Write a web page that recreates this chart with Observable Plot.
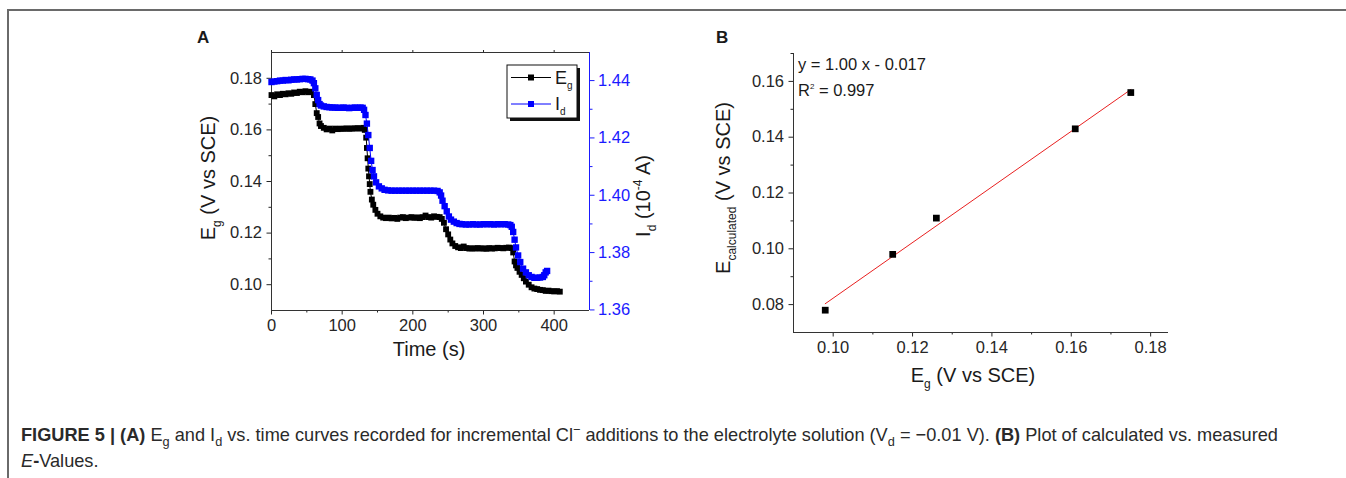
<!DOCTYPE html>
<html><head><meta charset="utf-8">
<script src="https://cdn.jsdelivr.net/npm/d3@7"></script>
<script src="https://cdn.jsdelivr.net/npm/@observablehq/plot@0.6"></script>
<style>
body{margin:0;background:#fff;font-family:"Liberation Sans",Arial,sans-serif;}
#page{position:relative;width:1346px;height:478px;overflow:hidden;background:#fff;}
#frame{position:absolute;left:7px;top:9px;width:1345px;height:475px;border-top:2px solid #6a6a6a;border-left:2px solid #6a6a6a;}
.chart{position:absolute;}
#overlay{position:absolute;left:0;top:0;}
#caption{position:absolute;left:21px;top:423px;font-size:18.2px;line-height:25.5px;color:#2a2a2a;white-space:nowrap;}
#caption sub,#caption sup{font-size:70%;line-height:0;}
</style></head>
<body><div id="page"><div id="frame"></div>
<div id="caption"><b>FIGURE 5 | (A)</b> E<sub>g</sub> and I<sub>d</sub> vs. time curves recorded for incremental Cl<sup>−</sup> additions to the electrolyte solution (V<sub>d</sub> = −0.01 V). <b>(B)</b> Plot of calculated vs. measured<br><i>E</i><b>-</b>Values.</div>
</div>
<script>
// ---- Panel A data ----
const egTime = [0,4,8,12,16,20,24,28,32,36,40,44,48,52,56,60,62,64,66,68,70,74,78,82,86,90,94,98,102,106,110,114,118,122,126,130,132,134,135,136,137,138,139,140,142,144,147,150,154,158,162,166,170,174,178,182,186,190,194,198,202,206,210,214,218,222,226,230,234,238,241,244,247,250,253,256,260,264,268,272,276,280,284,288,292,296,300,304,308,312,316,320,324,328,332,336,340,342,344,346,348,351,354,357,360,364,368,372,376,380,384,388,392,396,400,404,408];
const egValue = [0.1735,0.1730,0.1738,0.1735,0.1740,0.1738,0.1742,0.1740,0.1745,0.1743,0.1748,0.1746,0.1750,0.1746,0.1748,0.1735,0.1700,0.1665,0.1650,0.1625,0.1615,0.1608,0.1602,0.1605,0.1598,0.1605,0.1603,0.1605,0.1604,0.1606,0.1604,0.1606,0.1605,0.1607,0.1605,0.1608,0.1600,0.1570,0.1530,0.1490,0.1450,0.1420,0.1390,0.1360,0.1330,0.1310,0.1290,0.1275,0.1265,0.1260,0.1258,0.1260,0.1257,0.1259,0.1255,0.1260,0.1262,0.1258,0.1260,0.1262,0.1259,0.1261,0.1258,0.1262,0.1268,0.1262,0.1260,0.1265,0.1263,0.1262,0.1255,0.1240,0.1215,0.1195,0.1175,0.1160,0.1150,0.1145,0.1142,0.1148,0.1142,0.1140,0.1141,0.1140,0.1142,0.1140,0.1141,0.1139,0.1142,0.1140,0.1141,0.1143,0.1142,0.1141,0.1143,0.1144,0.1142,0.1125,0.1090,0.1075,0.1065,0.1050,0.1038,0.1025,0.1012,0.1000,0.0990,0.0985,0.0983,0.0980,0.0979,0.0976,0.0977,0.0975,0.0974,0.0975,0.0973];
const idTime = [0,4,8,12,16,20,24,28,32,36,40,44,48,52,55,58,60,62,64,66,68,70,74,78,82,86,90,94,98,102,106,110,114,118,122,126,129,131,133,135,137,139,141,143,145,148,152,156,160,165,170,175,180,185,190,195,200,205,210,215,220,225,230,235,238,240,242,245,248,251,254,258,262,266,270,275,280,285,290,295,300,305,310,315,320,325,330,335,338,340,342,344,346,349,352,356,360,364,368,372,376,380,384,386,388,390];
const idValue = [1.4395,1.4397,1.4398,1.4400,1.4400,1.4402,1.4401,1.4403,1.4404,1.4404,1.4405,1.4406,1.4406,1.4405,1.4404,1.4400,1.4391,1.4373,1.4350,1.4332,1.4318,1.4313,1.4310,1.4308,1.4307,1.4306,1.4306,1.4305,1.4305,1.4306,1.4305,1.4304,1.4305,1.4306,1.4305,1.4306,1.4305,1.4298,1.4280,1.4250,1.4210,1.4165,1.4120,1.4088,1.4066,1.4045,1.4031,1.4024,1.4019,1.4017,1.4016,1.4016,1.4016,1.4016,1.4016,1.4016,1.4016,1.4016,1.4016,1.4016,1.4016,1.4016,1.4016,1.4015,1.4010,1.3999,1.3981,1.3962,1.3944,1.3926,1.3915,1.3908,1.3903,1.3900,1.3899,1.3898,1.3898,1.3899,1.3898,1.3898,1.3899,1.3899,1.3899,1.3898,1.3899,1.3899,1.3899,1.3898,1.3896,1.3890,1.3872,1.3845,1.3818,1.3790,1.3767,1.3744,1.3731,1.3721,1.3715,1.3712,1.3712,1.3713,1.3715,1.3721,1.3731,1.3736];
const timeTicks = [0,100,200,300,400];
const timeMinor = [50,150,250,350];
const egTicks = [0.10,0.12,0.14,0.16,0.18];
const egMinor = [0.11,0.13,0.15,0.17];
const idTicks = [1.36,1.38,1.40,1.42,1.44];
const idMinor = [1.37,1.39,1.41,1.43];
const timeDomain = [0,450];
const egDomain = [0.09,0.19];
const idDomain = [1.3598,1.4498];

// ---- Panel B data ----
const measured = [0.098,0.115,0.126,0.161,0.175];
const calculated = [0.078,0.098,0.111,0.143,0.156];
const bxTicks = [0.10,0.12,0.14,0.16,0.18];
const bxMinor = [0.11,0.13,0.15,0.17];
const byTicks = [0.08,0.10,0.12,0.14,0.16];
const byMinor = [0.09,0.11,0.13,0.15,0.17];
const bxDomain = [0.09,0.1845];
const byDomain = [0.07,0.17];

const FONT = '"Liberation Sans", Arial, sans-serif';
const eg = egTime.map((t,i)=>({t, v:egValue[i]}));
const id = idTime.map((t,i)=>({t, v:idValue[i]}));
const toLeft = I => egDomain[0] + (I-idDomain[0])/(idDomain[1]-idDomain[0])*(egDomain[1]-egDomain[0]);
const toRight = y => idDomain[0] + (y-egDomain[0])/(egDomain[1]-egDomain[0])*(idDomain[1]-idDomain[0]);
const f2 = d3.format(".2f");
const blank = () => "";

const plotA = Plot.plot({
  width:520, height:360, marginLeft:91, marginTop:32, marginRight:111, marginBottom:70,
  style:{fontFamily:FONT, fontSize:"16.5px", color:"#262626", background:"transparent", overflow:"visible"},
  x:{domain:timeDomain, label:null},
  y:{domain:egDomain, label:null},
  marks:[
    Plot.axisX(timeTicks, {tickSize:4.5, tickPadding:4, tickFormat:d=>String(d), label:null}),
    Plot.axisX(timeMinor, {tickSize:2.5, tickFormat:blank, label:null}),
    Plot.axisX(timeTicks, {anchor:"top", tickSize:3, tickFormat:blank, label:null}),
    Plot.axisY(egTicks, {tickSize:4.5, tickPadding:5, tickFormat:f2, label:null}),
    Plot.axisY(egMinor, {tickSize:2.5, tickFormat:blank, label:null}),
    Plot.axisY(idTicks.map(toLeft), {anchor:"right", color:"#1a1aff", tickSize:4.5, tickPadding:4, tickFormat:d=>f2(toRight(d)), label:null}),
    Plot.axisY(idMinor.map(toLeft), {anchor:"right", color:"#1a1aff", tickSize:2.5, tickFormat:blank, label:null}),
    Plot.ruleY([egDomain[0]], {stroke:"#333"}),
    Plot.ruleY([egDomain[1]], {stroke:"#333"}),
    Plot.ruleX([timeDomain[0]], {stroke:"#333"}),
    Plot.ruleX([timeDomain[1]], {stroke:"#1a1aff"}),
    Plot.line(eg, {x:"t", y:"v", stroke:"black", strokeWidth:1}),
    Plot.dot(eg, {x:"t", y:"v", symbol:"square", fill:"black", r:3.3}),
    Plot.line(id, {x:"t", y:d=>toLeft(d.v), stroke:"#0000ff", strokeWidth:1}),
    Plot.dot(id, {x:"t", y:d=>toLeft(d.v), symbol:"square", fill:"#0000ff", r:3.6})
  ]
});
plotA.classList.add("chart");
plotA.style.left="180px"; plotA.style.top="20px";

const pts = measured.map((x,i)=>({x, y:calculated[i]}));
const plotB = Plot.plot({
  width:520, height:380, marginLeft:113, marginTop:33, marginRight:32, marginBottom:68,
  style:{fontFamily:FONT, fontSize:"16.5px", color:"#262626", background:"transparent", overflow:"visible"},
  x:{domain:bxDomain, label:null},
  y:{domain:byDomain, label:null},
  marks:[
    Plot.axisX(bxTicks, {tickSize:4.5, tickPadding:4, tickFormat:f2, label:null}),
    Plot.axisX(bxMinor, {tickSize:2.5, tickFormat:blank, label:null}),
    Plot.axisY(byTicks, {tickSize:4.5, tickPadding:5, tickFormat:f2, label:null}),
    Plot.axisY(byMinor, {tickSize:2.5, tickFormat:blank, label:null}),
    Plot.ruleX([bxDomain[0]], {stroke:"#333"}),
    Plot.ruleY([byDomain[0]], {stroke:"#333"}),
    Plot.linearRegressionY(pts, {x:"x", y:"y", stroke:"#e82020", strokeWidth:1, ci:0}),
    Plot.dot(pts, {x:"x", y:"y", symbol:"square", fill:"black", r:3.8})
  ]
});
plotB.classList.add("chart");
plotB.style.left="680px"; plotB.style.top="20px";

const page = document.getElementById("page");
page.appendChild(plotA);
page.appendChild(plotB);

// ---- overlay text: panel letters, axis titles, legend, annotation ----
const ov = d3.select(page).append("svg").attr("id","overlay")
  .attr("width",1346).attr("height",478)
  .style("font-family",FONT).style("fill","#1a1a1a");

function label(x, y, rot, parts, size){
  const t = ov.append("text").attr("transform",`translate(${x},${y}) rotate(${rot})`)
    .attr("text-anchor","middle").attr("font-size",size);
  let shift = 0;
  for (const [txt, kind] of parts){
    const s = t.append("tspan").text(txt);
    let target = 0, fs = size;
    if (kind==="sub"){ target = size*0.3; fs = size*0.6; }
    if (kind==="sup"){ target = -size*0.4; fs = size*0.6; }
    s.attr("font-size",fs).attr("dy", target - shift);
    shift = target;
  }
  return t;
}
ov.append("text").attr("x",197).attr("y",43).attr("font-size",17).attr("font-weight","bold").text("A");
ov.append("text").attr("x",716).attr("y",43).attr("font-size",17).attr("font-weight","bold").text("B");

label(215, 178, -90, [["E",""],["g","sub"],[" (V vs SCE)",""]], 20);
label(429, 356, 0, [["Time (s)",""]], 20);
label(650, 196, -90, [["I",""],["d","sub"],[" (10",""],["-4","sup"],[" A)",""]], 20);

label(730, 188, -90, [["E",""],["calculated","sub"],[" (V vs SCE)",""]], 20);
label(973, 382, 0, [["E",""],["g","sub"],[" (V vs SCE)",""]], 20);

ov.append("text").attr("x",798).attr("y",70).attr("font-size",16.5).text("y = 1.00 x - 0.017");
const r2 = ov.append("text").attr("x",798).attr("y",96).attr("font-size",16.5);
r2.append("tspan").text("R");
r2.append("tspan").attr("font-size",8).attr("dy",-7).text("2");
r2.append("tspan").attr("dy",7).text(" = 0.997");

// legend
const lg = ov.append("g");
lg.append("rect").attr("x",510).attr("y",68).attr("width",70).attr("height",53).attr("fill","#111");
lg.append("rect").attr("x",507).attr("y",65).attr("width",70).attr("height",53).attr("fill","#fff").attr("stroke","#111").attr("stroke-width",1);
const leg = [["E","g","#000",77.5],["I","d","#0000ff",104]];
for (const [m, s, c, y] of leg){
  lg.append("line").attr("x1",511).attr("x2",551).attr("y1",y).attr("y2",y).attr("stroke",c).attr("stroke-width",1);
  lg.append("rect").attr("x",528).attr("y",y-3).attr("width",6).attr("height",6).attr("fill",c);
  const t = lg.append("text").attr("x",555).attr("y",y+6).attr("font-size",18);
  t.append("tspan").text(m);
  t.append("tspan").attr("font-size",10).attr("dy",5).text(s);
}
</script>
</body></html>
